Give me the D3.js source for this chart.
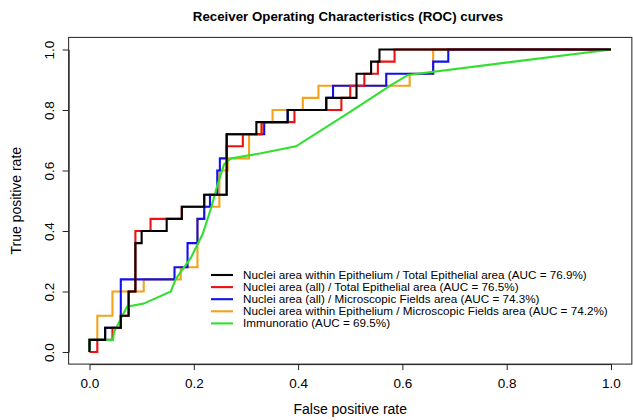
<!DOCTYPE html>
<html>
<head>
<meta charset="utf-8">
<script src="https://cdn.jsdelivr.net/npm/d3@7"></script>
<style>
body { margin: 0; background: #fff; }
text { font-family: "Liberation Sans", Arial, sans-serif; fill: #000; }
</style>
</head>
<body>
<div id="roc"></div>
<script>
// ROC points: false positive rate / true positive rate
const epiTotalFpr = [0, 0, 0.03, 0.03, 0.06, 0.06, 0.075, 0.075, 0.088, 0.088, 0.10, 0.10, 0.148, 0.148, 0.177, 0.177, 0.22, 0.22, 0.263, 0.263, 0.32, 0.32, 0.38, 0.38, 0.454, 0.454, 0.512, 0.512, 0.54, 0.54, 0.556, 0.556, 1];
const epiTotalTpr = [0, 0.04, 0.04, 0.08, 0.08, 0.12, 0.12, 0.20, 0.20, 0.36, 0.36, 0.40, 0.40, 0.44, 0.44, 0.48, 0.48, 0.52, 0.52, 0.72, 0.72, 0.76, 0.76, 0.80, 0.80, 0.84, 0.84, 0.92, 0.92, 0.96, 0.96, 1, 1];

const allTotalFpr = [0, 0.015, 0.015, 0.044, 0.044, 0.06, 0.06, 0.075, 0.075, 0.088, 0.088, 0.117, 0.117, 0.177, 0.177, 0.22, 0.22, 0.263, 0.263, 0.294, 0.294, 0.33, 0.33, 0.393, 0.393, 0.483, 0.483, 0.50, 0.50, 0.527, 0.527, 0.553, 0.553, 0.585, 0.585, 1];
const allTotalTpr = [0, 0, 0.04, 0.04, 0.08, 0.08, 0.12, 0.12, 0.20, 0.20, 0.40, 0.40, 0.44, 0.44, 0.48, 0.48, 0.52, 0.52, 0.68, 0.68, 0.72, 0.72, 0.76, 0.76, 0.80, 0.80, 0.84, 0.84, 0.88, 0.88, 0.92, 0.92, 0.96, 0.96, 1, 1];

const allFieldsFpr = [0, 0, 0.03, 0.03, 0.06, 0.06, 0.163, 0.163, 0.188, 0.188, 0.207, 0.207, 0.22, 0.22, 0.231, 0.231, 0.245, 0.245, 0.25, 0.25, 0.263, 0.263, 0.335, 0.335, 0.38, 0.38, 0.454, 0.454, 0.467, 0.467, 0.569, 0.569, 0.659, 0.659, 0.688, 0.688, 1];
const allFieldsTpr = [0, 0.04, 0.04, 0.08, 0.08, 0.24, 0.24, 0.28, 0.28, 0.36, 0.36, 0.44, 0.44, 0.48, 0.48, 0.52, 0.52, 0.60, 0.60, 0.64, 0.64, 0.72, 0.72, 0.76, 0.76, 0.80, 0.80, 0.84, 0.84, 0.88, 0.88, 0.92, 0.92, 0.96, 0.96, 1, 1];

const epiFieldsFpr = [0, 0, 0.015, 0.015, 0.044, 0.044, 0.104, 0.104, 0.175, 0.175, 0.207, 0.207, 0.22, 0.22, 0.249, 0.249, 0.265, 0.265, 0.306, 0.306, 0.33, 0.33, 0.351, 0.351, 0.409, 0.409, 0.439, 0.439, 0.614, 0.614, 0.659, 0.659, 1];
const epiFieldsTpr = [0, 0.04, 0.04, 0.12, 0.12, 0.20, 0.20, 0.24, 0.24, 0.28, 0.28, 0.44, 0.44, 0.48, 0.48, 0.60, 0.60, 0.64, 0.64, 0.72, 0.72, 0.76, 0.76, 0.80, 0.80, 0.84, 0.84, 0.88, 0.88, 0.92, 0.92, 1, 1];

const immunoFpr = [0, 0, 0.045, 0.047, 0.072, 0.104, 0.156, 0.165, 0.175, 0.194, 0.217, 0.233, 0.245, 0.258, 0.271, 0.329, 0.396, 0.496, 0.579, 0.611, 1];
const immunoTpr = [0, 0.04, 0.04, 0.066, 0.15, 0.16, 0.20, 0.24, 0.265, 0.31, 0.39, 0.475, 0.55, 0.62, 0.64, 0.657, 0.68, 0.79, 0.883, 0.916, 1];

const seriesNames = [
    "Nuclei area within Epithelium / Total Epithelial area (AUC = 76.9%)",
    "Nuclei area (all) / Total Epithelial area (AUC = 76.5%)",
    "Nuclei area (all) / Microscopic Fields area (AUC = 74.3%)",
    "Nuclei area within Epithelium / Microscopic Fields area (AUC = 74.2%)",
    "Immunoratio (AUC = 69.5%)"
];
const seriesColors = ["#000000", "#ee1111", "#1111ee", "#f4a21c", "#2fe02f"];
const tickValues = [0, 0.2, 0.4, 0.6, 0.8, 1.0];

const series = [
    {fpr: epiTotalFpr, tpr: epiTotalTpr},
    {fpr: allTotalFpr, tpr: allTotalTpr},
    {fpr: allFieldsFpr, tpr: allFieldsTpr},
    {fpr: epiFieldsFpr, tpr: epiFieldsTpr},
    {fpr: immunoFpr, tpr: immunoTpr}
].map((s, i) => ({
    name: seriesNames[i],
    color: seriesColors[i],
    points: s.fpr.map((f, j) => [f, s.tpr[j]])
}));

const width = 633, height = 420;

const svg = d3.select("#roc").append("svg")
    .attr("width", width)
    .attr("height", height);

const x = d3.scaleLinear().domain([0, 1]).range([89.5, 611]);
const y = d3.scaleLinear().domain([0, 1]).range([352, 49.5]);

// title
svg.append("text")
    .attr("x", 348)
    .attr("y", 21)
    .attr("text-anchor", "middle")
    .style("font-size", "13.3px")
    .style("font-weight", "bold")
    .text("Receiver Operating Characteristics (ROC) curves");

// axes (R style: ticks outside the box, rotated y labels)
const xAxis = svg.append("g")
    .attr("transform", "translate(0," + y(-0.04) + ")")
    .call(d3.axisBottom(x).tickValues(tickValues).tickFormat(d3.format(".1f")).tickSize(6).tickSizeOuter(0).tickPadding(8));
xAxis.selectAll("text").style("font-size", "13.5px").attr("fill", "#000");

const yAxis = svg.append("g")
    .attr("transform", "translate(" + x(-0.04) + ",0)")
    .call(d3.axisLeft(y).tickValues(tickValues).tickFormat(d3.format(".1f")).tickSize(6).tickSizeOuter(0));
yAxis.selectAll("text")
    .style("font-size", "13.5px")
    .attr("fill", "#000")
    .attr("text-anchor", "middle")
    .attr("transform", "rotate(-90)")
    .attr("x", 0)
    .attr("dx", null)
    .attr("dy", null)
    .attr("y", -15);
svg.selectAll(".domain, .tick line").attr("stroke", "#222");

svg.append("text")
    .attr("x", x(0.5))
    .attr("y", 414)
    .attr("text-anchor", "middle")
    .style("font-size", "14px")
    .text("False positive rate");

svg.append("text")
    .attr("transform", "translate(21," + y(0.5) + ") rotate(-90)")
    .attr("text-anchor", "middle")
    .style("font-size", "14px")
    .text("True positive rate");

// plot box
svg.append("rect")
    .attr("x", x(-0.04))
    .attr("y", y(1.04))
    .attr("width", x(1.04) - x(-0.04))
    .attr("height", y(-0.04) - y(1.04))
    .attr("fill", "none")
    .attr("stroke", "#222")
    .attr("stroke-width", 1);

// curves
const line = d3.line()
    .x(d => x(d[0]))
    .y(d => y(d[1]));

const drawOrder = [3, 2, 1, 4, 0];
svg.selectAll("path.roc")
    .data(drawOrder.map(i => series[i]))
    .enter()
    .append("path")
    .attr("class", "roc")
    .attr("fill", "none")
    .attr("stroke", d => d.color)
    .attr("stroke-width", 2.1)
    .attr("stroke-linejoin", "miter")
    .attr("d", d => line(d.points));

// legend (no frame)
const legend = svg.append("g")
    .attr("transform", "translate(209,275)");

const rows = legend.selectAll("g.row")
    .data(series)
    .enter()
    .append("g")
    .attr("class", "row")
    .attr("transform", (d, i) => "translate(0," + i * 12.1 + ")");

rows.append("line")
    .attr("x1", 2)
    .attr("x2", 24)
    .attr("y1", 0)
    .attr("y2", 0)
    .attr("stroke", d => d.color)
    .attr("stroke-width", 2.1);

rows.append("text")
    .attr("x", 34)
    .attr("y", 4)
    .style("font-size", "11.7px")
    .text(d => d.name);
</script>
</body>
</html>
